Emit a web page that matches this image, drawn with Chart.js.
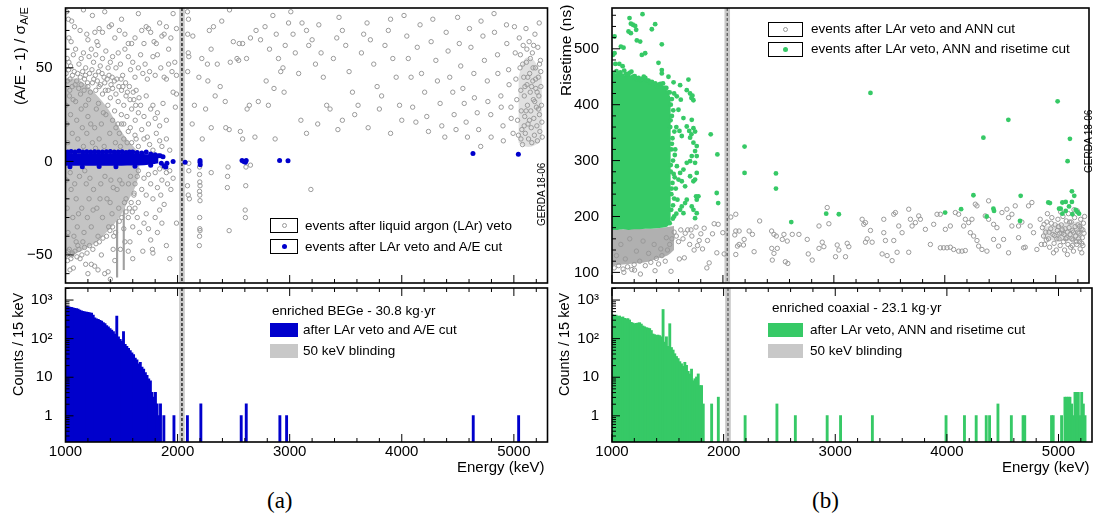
<!DOCTYPE html>
<html>
<head>
<meta charset="utf-8">
<script src="https://cdn.jsdelivr.net/npm/chart.js@4.4.1/dist/chart.umd.min.js"></script>
<style>
  body { margin: 0; background: #fff; font-family: "Liberation Sans", Arial, sans-serif; }
  #wrap { position: relative; width: 1094px; height: 517px; overflow: hidden; }
  canvas { position: absolute; }
  .vt { position: absolute; writing-mode: vertical-rl; transform: rotate(180deg); white-space: nowrap; text-align: end; color: #000; }
  .lg { position: absolute; font-size: 13.5px; line-height: 16px; white-space: nowrap; color: #000; }
  .box { position: absolute; box-sizing: border-box; border: 1px solid #000; background: #fff; }
  .fbox { position: absolute; }
  .mk { position: absolute; box-sizing: border-box; border-radius: 50%; }
</style>
</head>
<body>
<div id="wrap">
  <canvas id="tl" width="555" height="290" style="left:0;top:0"></canvas>
  <canvas id="bl" width="555" height="195" style="left:0;top:285px"></canvas>
  <canvas id="tr" width="549" height="290" style="left:545px;top:0"></canvas>
  <canvas id="br" width="549" height="195" style="left:545px;top:285px"></canvas>

  <div class="vt" style="left:11px;top:7px;height:150px;font-size:15.5px">(A/E - 1) / &sigma;<sub style="font-size:11px">A/E</sub></div>
  <div class="vt" style="left:557px;top:5px;height:120px;font-size:15.5px">Risetime (ns)</div>
  <div class="vt" style="left:10px;top:293px;height:107px;font-size:14.5px">Counts / 15 keV</div>
  <div class="vt" style="left:556px;top:293px;height:107px;font-size:14.5px">Counts / 15 keV</div>
  <div class="vt" style="left:536px;top:163px;height:64px;font-size:10px">GERDA 18-06</div>
  <div class="vt" style="left:1083px;top:110px;height:64px;font-size:10px">GERDA 18-06</div>

  <!-- scatter legends -->
  <div class="box" style="left:270px;top:218px;width:28px;height:15px"></div>
  <div class="mk" style="left:281.5px;top:223px;width:5px;height:5px;border:1px solid #999"></div>
  <div class="lg" style="left:305px;top:218px">events after liquid argon (LAr) veto</div>
  <div class="box" style="left:270px;top:239px;width:28px;height:15px"></div>
  <div class="mk" style="left:281.5px;top:244px;width:5px;height:5px;background:rgb(0,0,204)"></div>
  <div class="lg" style="left:305px;top:239px">events after LAr veto and A/E cut</div>

  <div class="box" style="left:768px;top:22px;width:35px;height:15px"></div>
  <div class="mk" style="left:783px;top:27px;width:5px;height:5px;border:1px solid #999"></div>
  <div class="lg" style="left:811px;top:21px">events after LAr veto and ANN cut</div>
  <div class="box" style="left:768px;top:42px;width:35px;height:15px"></div>
  <div class="mk" style="left:783px;top:47px;width:5px;height:5px;background:rgb(54,201,102)"></div>
  <div class="lg" style="left:811px;top:41px">events after LAr veto, ANN and risetime cut</div>

  <!-- histogram legends -->
  <div class="lg" style="left:272px;top:303px">enriched BEGe - 30.8 kg·yr</div>
  <div class="fbox" style="left:270px;top:323px;width:28px;height:14px;background:rgb(0,0,204)"></div>
  <div class="lg" style="left:303px;top:322px">after LAr veto and A/E cut</div>
  <div class="fbox" style="left:270px;top:344px;width:28px;height:14px;background:#c8c8c8"></div>
  <div class="lg" style="left:303px;top:343px">50 keV blinding</div>

  <div class="lg" style="left:772px;top:300px">enriched coaxial - 23.1 kg·yr</div>
  <div class="fbox" style="left:768px;top:323px;width:35px;height:14px;background:rgb(54,201,102)"></div>
  <div class="lg" style="left:810px;top:322px">after LAr veto, ANN and risetime cut</div>
  <div class="fbox" style="left:768px;top:344px;width:35px;height:14px;background:#c8c8c8"></div>
  <div class="lg" style="left:810px;top:343px">50 keV blinding</div>

  <div class="lg" style="left:457px;top:458px;font-size:15px;line-height:17px">Energy (keV)</div>
  <div class="lg" style="left:1002px;top:458px;font-size:15px;line-height:17px">Energy (keV)</div>
  <div class="lg" style="left:267px;top:488px;font-family:'Liberation Serif',serif;font-size:23px;line-height:26px">(a)</div>
  <div class="lg" style="left:812px;top:488px;font-family:'Liberation Serif',serif;font-size:23px;line-height:26px">(b)</div>
</div>

<script>
// ---- data ----
const energyRange = [1000, 5300];
const blindWindow = [2014, 2064];   // 50 keV blinding around Q_bb
const qbb = 2039;

// (a) BEGe: events after LAr veto, [energy keV, (A/E-1)/sigma]
const tlGrayLow = [
  [1010,80],[1025,76],[1055,75],[1030,66],[1050,64],[1080,72],[1130,70],[1160,81],[1190,68],[1200,65],[1240,78],[1262,69],[1280,64],[1300,71],[1330,69],[1350,80],[1390,72],[1410,73],[1440,66],[1480,70],[1500,76],[1530,68],[1560,63],[1590,63],[1620,66],[1650,79],[1680,70],[1700,63],[1720,72],[1740,71],[1760,69],[1790,64],[1810,63],[1840,74],[1860,67],[1880,68],[1900,72],[1920,60],[1940,66],[1960,79],[1990,71],
  [1015,55],[1030,53],[1045,51],[1070,57],[1090,60],[1120,52],[1140,55],[1160,58],[1180,50],[1210,56],[1230,60],[1250,53],[1270,57],[1290,62],[1310,51],[1330,55],[1360,59],[1380,50],[1400,53],[1420,56],[1450,50],[1470,58],[1490,52],[1510,46],[1530,60],[1560,56],[1580,49],[1600,53],[1620,45],[1650,50],[1670,57],[1690,47],[1710,52],[1730,44],[1750,48],[1780,56],[1800,46],[1820,57],[1850,50],[1880,45],[1900,44],[1920,52],[1950,48],[1975,53],[1990,46],
  [1040,44],[1060,40],[1100,43],[1140,41],[1170,44],[1200,40],[1240,42],[1270,38],[1300,40],[1330,36],[1350,42],[1380,38],[1400,34],[1420,39],[1450,36],[1470,32],[1500,38],[1520,30],[1540,35],[1570,40],[1590,28],[1610,33],[1630,38],[1650,26],[1670,30],[1700,24],[1720,35],[1740,20],[1760,28],[1780,30],[1800,23],[1820,26],[1840,19],[1870,31],[1900,22],[1960,37],[1980,29],[1990,36],
  [1005,47],[1018,43],[1028,49],[1038,38],[1062,46],[1078,48],[1086,41],[1108,47],[1118,39],[1132,45],[1152,48],[1166,38],[1178,46],[1196,42],[1214,47],[1222,37],[1236,49],[1252,44],[1266,46],[1284,43],[1296,48],[1312,41],[1326,47],[1344,45],[1356,38],[1372,44],[1388,46],[1406,41],[1416,45],[1436,43],[1458,44],[1476,40],[1496,44],[1512,40],[1536,42],[1552,37],[1576,33],[1604,37],[1626,30],[1656,34],
  [1450,18],[1480,15],[1500,20],[1520,12],[1560,16],[1590,10],[1620,14],[1650,8],[1680,17],[1700,12],[1730,13],[1750,9],[1780,6],[1810,15],[1840,11],[1860,8],[1900,12],[1930,6],
  [1580,-8],[1620,-12],[1650,-5],[1680,-15],[1700,-9],[1720,-18],[1740,-7],[1760,-12],[1780,-20],[1800,-6],[1820,-14],[1840,-4],[1860,-10],[1880,-3],[1900,-6],[1910,-12],[1930,-5],[1940,-15],[1960,-9],[1850,-18],[1880,-23],
  [1040,-58],[1025,-48],[1055,-50],[1070,-57],[1095,-43],[1110,-45],[1130,-52],[1155,-43],[1180,-55],[1200,-60],[1230,-55],[1260,-56],[1290,-58],[1320,-50],[1350,-60],[1380,-59],[1400,-63],[1425,-47],[1440,-53],[1490,-47],[1530,-43],[1560,-48],[1575,-43],[1600,-52],[1620,-25],[1640,-30],[1650,-22],[1660,-38],[1690,-48],[1700,-33],[1720,-28],[1740,-36],[1760,-42],[1775,-47],[1780,-49],[1800,-30],[1820,-38],[1840,-26],[1860,-33],[1900,-45],[1930,-52],[1990,-33],[1600,-35],[1560,-30],[1520,-36],[1480,-32],
  [1008,-50],[1018,-53],[1034,-47],[1048,-52],[1062,-49],[1084,-48],[1102,-51],[1120,-47],[1146,-50],[1170,-46],[1192,-49],[1214,-45],[1244,-47],[1272,-44],[1302,-43],[1334,-41],[1366,-40],[1396,-37],[1420,-35],[1446,-38],[1502,-30],[1540,-27],[1586,-22],[1612,-17],
  [1005,30],[1012,20],[1020,10],[1008,-10],[1015,-25],[1022,-38],[1035,35],[1045,25],[1060,15],[1050,-15],[1065,-30],[1075,-40],[1090,32],[1100,22],[1110,12],[1095,-20],[1105,-35],[1125,-8],[1140,28],[1150,18],[1160,8],[1145,-25],[1165,-38],[1180,30],[1190,15],[1200,24],[1185,-12],[1195,-30],[1210,-20],[1225,20],[1240,10],[1230,-35],[1250,-15],[1260,18],[1275,28],[1280,-25],[1290,-40],[1300,12],[1320,20],[1315,-12],[1330,-30],[1345,8],[1360,25],[1370,-20],[1385,-35],[1395,15],[1405,-10],[1420,22],[1415,-28],[1430,-40],[1445,10],[1460,-15],[1475,-25],[1490,8],[1505,-12],[1520,20],[1540,-20],[1550,10],[1570,-25],[1590,5],[1610,-18],[1630,12],[1640,-8],
  [1026,4],[1042,-6],[1068,33],[1082,-12],[1116,-28],[1134,36],[1172,-5],[1206,33],[1218,-9],[1246,-26],[1268,7],[1294,31],[1308,-20],[1338,26],[1352,-8],[1378,30],[1398,-22],[1426,-14],[1438,27],[1468,20],[1484,-10],[1498,25],[1526,-22],[1548,24],[1562,-12],[1578,18],[1596,-27],[1622,22]
];
const tlGrayHigh = [
  [2088,80],[2097,76],[2090,68],[2136,67],[2095,58],[2100,56],[2216,55],[2299,60],[2320,72],[2283,70],[2394,75],[2266,52],[2354,52],[2090,48],[2190,45],[2270,43],[2335,35],[2425,32],[2463,81],[2497,64],[2550,63],[2580,63],[2530,55],[2545,54],[2470,53],[2615,55],[2650,66],[2700,70],[2740,65],[2780,72],[2820,60],[2850,78],[2880,68],[2900,55],[2940,50],[2960,62],[2990,74],[2130,20],[2150,30],[2220,12],[2250,28],[2300,18],[2380,40],[2430,18],[2460,17],[2560,16],[2580,12],[2620,28],[2640,30],[2690,13],[2720,32],[2790,43],[2810,30],[2860,39],[2870,12],[2920,48],[2950,37],
  [2100,-1],[2100,-5],[2088,-13],[2095,-18],[2105,-20],[2196,-3],[2196,-7],[2198,-11],[2200,-13],[2196,-16],[2198,-18],[2200,-21],[2197,-30],[2198,-36],[2200,-37],[2196,-40],[2194,-45],[2300,-6],[2446,-8],[2450,-3],[2444,-14],[2460,-37],[2603,-26],[2605,-30],[2610,-3],[2608,-13],[2650,-2],[3189,-15],
  [3010,80],[3030,68],[3050,58],[3080,47],[3110,74],[3150,70],[3170,62],[3200,65],[3230,52],[3260,73],[3280,58],[3300,45],[3330,30],[3360,28],[3390,55],[3420,66],[3440,77],[3470,70],[3500,62],[3530,48],[3560,37],[3580,25],[3610,30],[3640,58],[3660,68],[3690,74],[3720,65],[3750,52],[3780,40],[3800,28],[3820,35],[3850,62],[3880,70],[3900,76],[3920,55],[3950,45],[3980,30],[4000,22],[3100,22],[3150,15],[3250,20],[3430,17],[3470,22],[3700,18],[3900,15],
  [4020,78],[4045,67],[4058,55],[4083,45],[4097,29],[4126,21],[4138,61],[4163,73],[4176,47],[4204,37],[4223,24],[4238,16],[4262,64],[4277,76],[4304,54],[4318,43],[4342,31],[4357,19],[4384,13],[4396,69],[4413,59],[4428,45],[4455,37],[4467,25],[4484,17],[4498,77],[4513,63],[4526,51],[4545,39],[4557,31],[4574,21],[4586,13],[4604,71],[4617,61],[4643,47],[4648,34],[4673,26],[4686,17],[4704,8],[4707,75],[4724,67],[4737,54],[4763,43],[4768,32],[4794,25],[4797,13],[4823,79],[4827,69],[4854,57],[4857,47],[4884,35],[4887,29],[4903,19],[4906,11],[4934,73],[4937,63],[4953,49],[4957,41],[4974,29],[4976,23],[4993,15],
  [5005,72],[5012,58],[5018,44],[5026,33],[5033,22],[5041,14],[5048,66],[5055,50],[5062,38],[5066,27],[5071,17],[5077,9],[5083,62],[5088,45],[5093,35],[5097,24],[5102,15],[5108,71],[5112,53],[5117,41],[5121,30],[5126,20],[5131,12],[5136,64],[5141,47],[5146,37],[5151,27],[5155,18],[5160,10],[5165,58],[5169,43],[5174,33],[5178,23],[5183,14],[5188,68],[5192,50],[5196,39],[5201,29],[5205,19],[5210,11],[5214,61],[5218,45],[5223,35],[5228,25],[5232,16],[5237,54],[5241,40],[5246,30],[5250,21],[5253,13],[5058,57],[5079,52],[5099,40],[5124,45],[5147,55],[5171,50],[5194,44],[5219,28],[5240,48],[5063,12],[5109,27],[5158,40],[5207,37],[5229,52],[5186,32],[5139,22],[5092,19],[5116,60],[5176,62],[5226,74]
];
// dense core of the gray cloud (outline)
const tlCoreE   = [1000, 1100, 1200, 1300, 1380, 1440, 1500, 1560, 1620, 1660];
const tlCoreTop = [44, 44, 40, 34, 28, 22, 16, 11, 7, 4];
const tlCoreBot = [-50, -49, -46, -42, -37, -33, -28, -21, -14, -6];
// vertical streaks at the K-40 and K-42 lines
const tlStreak1E = [1450, 1472], tlStreak1Top = [0, 0], tlStreak1Bot = [-62, -62];
const tlStreak2E = [1508, 1530], tlStreak2Top = [0, 0], tlStreak2Bot = [-58, -58];
const tlClusterE = [5040, 5100, 5160, 5220, 5250];
const tlClusterTop = [45, 55, 55, 50, 45];
const tlClusterBot = [10, 8, 8, 10, 12];
// events after LAr veto and A/E cut
const tlBandE   = [1000, 1200, 1400, 1600, 1700, 1780, 1830];
const tlBandTop = [4.3, 4.3, 4.3, 4.2, 4, 3.5, 2.5];
const tlBandBot = [-2.3, -2.3, -2.3, -2.2, -2, -1.5, -1];
const tlBlue = [
  [1020,5],[1050,5.3],[1085,5],[1120,5.5],[1155,5],[1190,5.2],[1225,5],[1260,5.2],[1295,5],[1330,5],[1365,5.2],[1400,5.3],[1435,5],[1470,5],[1505,5.2],[1540,4.8],[1570,5],[1600,5],[1640,4.8],[1680,4.5],[1720,5],[1760,4],[1800,3.5],[1830,3],
  [1040,-2.8],[1150,-2.8],[1300,-2.7],[1450,-2.8],[1620,-2.6],[1760,-2],
  [1845,3],[1855,-1],[1870,2.5],[1880,-2.5],[1895,-3],[1905,-1],[1960,0],[2067,-0.5],[2200,-0.5],[2202,-1.8],[2200,0.5],[2575,0.5],[2590,0],[2605,-0.5],[2612,0.5],[2910,0.5],[2985,0.3],[4635,4.2],[5040,3.8]
];

// (a) BEGe histogram: 15 keV bins starting at 1000 keV
const begeBinStart = 1000;
const begeCounts = [690,670,650,640,620,600,590,570,540,520,500,490,480,470,460,450,400,340,320,310,295,280,255,240,215,200,180,165,150,130,380,110,95,85,150,70,62,55,48,42,38,31,28,22,24,18,16,13,11,9,8,4,3,4,2,1,2];
const begeLineE = [1875, 1965, 2085, 2205, 2565, 2610, 2910, 2970, 4635, 5040];
const begeLineN = [1, 1, 1, 2, 1, 2, 1, 1, 1, 1];

// (b) coaxial: events after LAr veto and ANN cut, [energy keV, risetime ns]
const trGray = [
  [1107,100],[1179,105],[1203,104],[1256,97],[1388,103],[1532,102],[1607,124],[1652,126],[1682,176],[1712,176],[1757,181],[1801,169],[1786,157],[1771,148],[1831,179],[1861,157],[1816,142],[1906,169],[1855,108],[1876,117],[1921,187],[1957,186],[1945,135],[1999,171],[2011,133],[2071,199],[2116,204],[2116,174],[2107,167],[2131,147],[2116,132],[2146,174],[2146,150],[2236,174],[2266,168],[2191,159],[2185,149],[2281,137],[2331,192],[2439,174],[2460,168],[2481,165],[2440,143],[2460,134],[2445,122],[2490,143],[2535,159],[2550,168],[2580,156],[2625,168],[2563,119],[2585,116],[2685,168],[2760,159],[2769,133],[2805,122],
  [2866,183],[2940,216],[2955,187],[2895,154],[2910,146],[2866,143],[3030,149],[3045,140],[3015,128],[3120,152],[3135,146],[3105,128],[3255,195],[3270,186],[3285,189],[3330,175],[3285,154],[3300,160],[3345,154],[3450,195],[3450,171],[3465,157],[3435,133],[3480,130],[3525,121],[3540,204],[3555,207],[3585,183],[3615,171],[3540,157],[3570,136],[3675,213],[3690,195],[3705,183],[3735,189],[3765,201],[3780,195],[3675,136],[3825,177],[3870,150],[3900,186],[3930,204],[3960,204],[3960,144],[3990,144],[4020,144],[4050,145],[4005,177],[4050,183],[4095,207],[4125,204],[4080,141],[4125,138],[4155,138],[4185,139],[4170,183],[4185,195],[4215,189],[4245,195],[4275,222],[4290,219],[4230,171],[4260,165],[4290,157],[4365,201],[4395,195],[4305,147],[4335,141],[4380,138],[4395,228],[4440,186],[4470,180],[4440,159],[4485,147],[4530,159],[4515,207],[4560,213],[4575,198],[4605,204],[4605,183],[4575,135],[4635,219],[4665,183],[4695,190],[4665,162],[4710,144],[4725,145],[4755,219],[4785,225],[4770,183],[4800,171],[4830,141],
  [4860,195],[4880,180],[4890,165],[4900,150],[4910,172],[4920,190],[4935,160],[4945,145],[4955,178],[4965,198],[4975,168],[4985,152],[4995,185],[5005,140],[5015,175],[5020,195],[5030,160],[5040,148],[5050,185],[5055,170],[5065,200],[5070,155],[5080,140],[5085,178],[5095,192],[5100,162],[5110,150],[5115,205],[5120,180],[5130,168],[5135,145],[5140,190],[5150,175],[5155,158],[5160,138],[5170,198],[5175,182],[5180,165],[5190,150],[5195,210],[5200,185],[5210,170],[5215,155],[5220,142],[5225,195],[5230,178],[5240,162],[5245,148],[5250,188],[5255,170],[4870,150],[4925,205],[4980,135],[5045,208],[5105,132],[5165,212],[5235,135],[5260,200],[5010,160],[5075,168],[5145,160],[5205,160],
  [4895,186],[4940,172],[4990,166],[5025,182],[5060,176],[5090,160],[5125,190],[5160,172],[5185,155],[5215,182],[5245,176],[4915,158],[4960,188],[5035,170],[5105,172],[5150,148],[5200,172],[5235,152],
  [1020,108],[1060,112],[1100,106],[1140,110],[1200,114],[1250,120],[1300,112],[1350,118],[1400,125],[1420,115],[1450,130],[1480,120],[1500,140],[1520,150],[1540,160],[1560,172],[1580,165],[1600,155],[1620,176],[1640,160],[1660,170],[1700,150],[1720,165],[1740,140],
  [1040,130],[1080,150],[1120,124],[1160,160],[1220,138],[1280,156],[1330,134],[1380,150],[1440,142],[1490,162]
];
const trGrayCoreE   = [1000, 1100, 1200, 1300, 1400, 1500, 1560];
const trGrayCoreTop = [177, 177, 178, 178, 179, 181, 183];
const trGrayCoreBot = [112, 114, 116, 118, 124, 130, 140];
const trClusterE   = [4880, 4950, 5050, 5150, 5240];
const trClusterTop = [180, 184, 188, 190, 192];
const trClusterBot = [160, 158, 156, 156, 158];
// events after LAr veto, ANN and risetime cut
const trGreenCoreE   = [1000, 1050, 1100, 1150, 1200, 1250, 1300, 1350, 1400, 1450, 1500, 1530];
const trGreenCoreTop = [453, 456, 452, 454, 449, 445, 446, 440, 436, 436, 424, 412];
const trGreenCoreBot = [176, 176, 177, 176, 177, 177, 178, 178, 179, 180, 182, 190];
const trGreen = [
  [1023,522],[1023,492],[1008,489],[1080,504],[1104,502],[1158,555],[1170,545],[1188,543],[1209,541],[1218,534],[1275,562],[1149,531],[1170,528],[1224,515],[1254,513],[1389,544],[1359,535],[1269,489],[1299,492],[1449,508],[1030,473],[1066,473],[1096,469],[1419,475],[1449,462],[1449,456],[1509,450],[1614,435],[1689,445],[1674,426],[1704,420],[1716,412],[1734,408],[1725,416],
  [1010,456],[1028,452],[1040,460],[1058,455],[1075,458],[1092,452],[1110,461],[1126,455],[1140,454],[1158,457],[1175,459],[1190,450],[1205,451],[1222,446],[1240,448],[1256,444],[1270,446],[1286,450],[1300,448],[1316,443],[1330,443],[1346,440],[1360,441],[1376,436],[1390,438],[1406,433],[1420,436],[1436,437],[1460,438],[1476,430],[1490,430],[1506,422],[1520,422],
  [1530,400],[1540,380],[1525,360],[1545,340],[1535,320],[1550,300],[1530,280],[1545,260],[1535,240],[1550,220],[1560,200],[1580,360],[1570,320],[1585,290],[1575,250],[1560,420],[1555,440],[1565,270],[1590,230],[1580,205],[1540,410],[1552,390],[1528,372],[1562,352],[1540,330],[1566,310],[1530,292],[1556,276],[1538,250],[1560,232],[1534,212],[1548,196],[1520,188],
  [1584,415],[1620,409],[1599,391],[1644,376],[1674,361],[1696,353],[1716,347],[1719,373],[1734,358],[1749,352],[1608,353],[1629,344],[1704,341],[1734,332],[1764,326],[1749,317],[1764,308],[1749,296],[1719,308],[1704,299],[1674,296],[1644,284],[1614,278],[1599,266],[1629,263],[1659,254],[1704,272],[1734,263],[1764,278],[1749,266],[1764,230],[1758,236],[1779,236],[1674,230],[1659,224],[1629,218],[1719,218],[1734,212],[1644,206],[1614,212],[1764,206],[1749,197],
  [1890,347],[1950,311],[1944,242],[1957,224],
  [2195,325],[2195,278],[2478,277],[2478,250],[2616,190],
  [2931,205],[3045,204],[3330,421],[4003,207],[4147,213],[4258,238],[4348,341],[4378,200],[4438,214],[4444,210],[4573,373],[4684,237],[4678,192],[4933,225],[4948,224],[5017,406],[5128,339],[5107,299],[5146,245],[5167,237],[5146,226],[5060,225],[5090,226],[5120,218],[5045,214],[5090,210],[5180,212],[5195,208],[5210,205],[5150,204],[5060,205],[5030,214]
];

// (b) coaxial histogram: 15 keV bins starting at 1000 keV
const coaxBinStart = 1000;
const coaxCounts = [410,390,400,370,380,350,360,330,320,325,300,260,250,240,245,250,255,235,210,200,190,185,180,160,130,125,120,122,118,110,560,80,110,62,240,58,50,40,34,30,25,22,19,24,20,14,12,16,8,9,10,12,6,6];
const coaxLineE = [1810,1885,1945,2190,2475,2635,2930,3045,3330,3995,4150,4255,4345,4375,4450,4570,4675,4690,4930,4945,5020,5050,5065,5080,5095,5110,5125,5140,5155,5170,5185,5200,5215,5230];
const coaxLineN = [2,2,3,1,2,1,1,1,1,1,1,1,1,1,2,1,1,1,1,1,1,3,3,3,3,2,1,4,4,4,1,4,2,1];

// ---- colours ----
const blue = 'rgb(0,0,204)';
const green = 'rgb(54,201,102)';
const gray = '#999999';

Chart.defaults.font.family = '"Liberation Sans", Arial, sans-serif';
Chart.defaults.font.size = 15;
Chart.defaults.color = '#000';

const toPts = a => a.map(p => ({x: p[0], y: p[1]}));
function histPts(start, counts, lineE, lineN) {
  const out = counts.map((n, i) => ({x: start + 15 * i + 7.5, y: n}));
  lineE.forEach((e, i) => out.push({x: Math.floor((e - start) / 15) * 15 + start + 7.5, y: lineN[i]}));
  return out;
}
// filled area between two outlines sharing the same energies
function region(E, top, bot, color, order) {
  const clear = 'rgba(0,0,0,0)';
  return [
    {type: 'line', data: E.map((e, i) => ({x: e, y: top[i]})), borderColor: clear, pointRadius: 0, fill: false, tension: 0.35, order: order},
    {type: 'line', data: E.map((e, i) => ({x: e, y: bot[i]})), borderColor: clear, pointRadius: 0, fill: '-1', tension: 0.35, backgroundColor: color, order: order}
  ];
}

// frame, inward ticks, blinding window
const frame = {
  id: 'frame',
  beforeDatasetsDraw(chart) {
    const {ctx, chartArea: a, scales: {x}} = chart;
    const x1 = x.getPixelForValue(blindWindow[0]), x2 = x.getPixelForValue(blindWindow[1]);
    ctx.save();
    ctx.fillStyle = '#c8c8c8';
    ctx.fillRect(x1, a.top, x2 - x1, a.bottom - a.top);
    ctx.restore();
  },
  afterDatasetsDraw(chart, args, opts) {
    const {ctx, chartArea: a, scales: {x, y}} = chart;
    ctx.save();
    // dashed Q_bb line
    const xq = x.getPixelForValue(qbb);
    ctx.strokeStyle = opts.dashColor || '#000';
    ctx.lineWidth = 1.2;
    ctx.setLineDash([3, 2]);
    ctx.beginPath(); ctx.moveTo(xq, a.top); ctx.lineTo(xq, a.bottom); ctx.stroke();
    ctx.setLineDash([]);
    ctx.strokeStyle = '#000';
    ctx.lineWidth = 1;
    ctx.beginPath();
    for (let e = 1000; e <= 5300; e += 200) {
      const px = x.getPixelForValue(e);
      const len = e % 1000 === 0 ? 8 : 4;
      ctx.moveTo(px, a.bottom); ctx.lineTo(px, a.bottom - len);
      if (opts.topTicks) { ctx.moveTo(px, a.top); ctx.lineTo(px, a.top + len); }
    }
    (opts.yMajor || []).forEach(v => { const py = y.getPixelForValue(v); ctx.moveTo(a.left, py); ctx.lineTo(a.left + 8, py); });
    (opts.yMinor || []).forEach(v => { const py = y.getPixelForValue(v); ctx.moveTo(a.left, py); ctx.lineTo(a.left + 4, py); });
    ctx.stroke();
    ctx.lineWidth = 1.6;
    ctx.strokeRect(a.left, a.top, a.right - a.left, a.bottom - a.top);
    ctx.restore();
  }
};

function fixedTicks(values) {
  return scale => { scale.ticks = values.map(v => ({value: v})); };
}
// fixed axis sizes, no extra room for the end labels
function yFit(width) {
  return s => { s.width = width; s.paddingTop = 0; s.paddingBottom = 0; };
}
const xTop = {type: 'linear', min: energyRange[0], max: energyRange[1], display: false};
const xBottom = {
  type: 'linear', min: energyRange[0], max: energyRange[1], offset: false,
  grid: {display: false}, border: {display: false},
  afterBuildTicks: fixedTicks([1000, 2000, 3000, 4000, 5000]),
  ticks: {padding: -7, maxRotation: 0, callback: v => String(v)},
  afterFit: s => { s.height = 38; s.paddingLeft = 0; s.paddingRight = 0; }
};

function minorRange(from, to, step, skip) {
  const out = [];
  for (let v = from; v <= to + 1e-9; v += step) if (!skip.some(s => Math.abs(s - v) < 1e-9)) out.push(v);
  return out;
}
const logMinor = [];
[0.1, 1, 10, 100, 1000].forEach(d => { for (let k = 2; k <= 9; k++) logMinor.push(d * k); });
const logLabels = {1: '1', 10: '10', 100: '10\u00b2', 1000: '10\u00b3'};

const baseOpts = {
  responsive: false, animation: false, events: [],
  plugins: {legend: {display: false}, tooltip: {enabled: false}}
};

// ---- (a) top: A/E scatter ----
new Chart(document.getElementById('tl'), {
  type: 'scatter',
  data: {datasets: [
    {data: toPts(tlBlue), pointRadius: 2.5, pointBorderWidth: 0, backgroundColor: blue, order: 0},
    ...region(tlBandE, tlBandTop, tlBandBot, blue, 1),
    {data: toPts(tlGrayLow.concat(tlGrayHigh)), pointRadius: 2.2, pointBorderWidth: 1, borderColor: gray, backgroundColor: 'rgba(0,0,0,0)', order: 2},
    ...region(tlCoreE, tlCoreTop, tlCoreBot, '#c4c4c4', 3),
    ...region(tlStreak1E, tlStreak1Top, tlStreak1Bot, '#a0a0a0', 3),
    ...region(tlStreak2E, tlStreak2Top, tlStreak2Bot, '#a0a0a0', 3),
    ...region(tlClusterE, tlClusterTop, tlClusterBot, 'rgba(165,165,165,0.35)', 3)
  ]},
  options: {...baseOpts,
    layout: {padding: {top: 8, bottom: 7, right: 7.5, left: 0}},
    scales: {
      x: xTop,
      y: {type: 'linear', min: -65, max: 82, grid: {display: false}, border: {display: false},
          afterBuildTicks: fixedTicks([-50, 0, 50]),
          ticks: {padding: 5, callback: v => v < 0 ? '\u2212' + Math.abs(v) : String(v)},
          afterFit: yFit(65.5)}
    },
    plugins: {...baseOpts.plugins, frame: {yMajor: [-50, 0, 50], yMinor: minorRange(-60, 80, 10, [-50, 0, 50])}}
  },
  plugins: [frame]
});

// ---- (a) bottom: BEGe spectrum ----
new Chart(document.getElementById('bl'), {
  type: 'bar',
  data: {datasets: [{data: histPts(begeBinStart, begeCounts, begeLineE, begeLineN), backgroundColor: blue, borderWidth: 0, inflateAmount: 0.6, barPercentage: 1, categoryPercentage: 1}]},
  options: {...baseOpts,
    layout: {padding: {top: 3, bottom: 0, right: 7.5, left: 0}},
    scales: {
      x: xBottom,
      y: {type: 'logarithmic', min: 0.21, max: 2050, grid: {display: false}, border: {display: false},
          afterBuildTicks: fixedTicks([1, 10, 100, 1000]),
          ticks: {padding: 5, callback: v => logLabels[v]},
          afterFit: yFit(65.5)}
    },
    plugins: {...baseOpts.plugins, frame: {topTicks: true, yMajor: [1, 10, 100, 1000], yMinor: logMinor.filter(v => v > 0.21 && v < 2050)}}
  },
  plugins: [frame]
});

// ---- (b) top: risetime scatter ----
new Chart(document.getElementById('tr'), {
  type: 'scatter',
  data: {datasets: [
    {data: toPts(trGreen), pointRadius: 2.4, pointBorderWidth: 0, backgroundColor: green, order: 0},
    ...region(trGreenCoreE, trGreenCoreTop, trGreenCoreBot, green, 1),
    {data: toPts(trGray), pointRadius: 2.2, pointBorderWidth: 1, borderColor: gray, backgroundColor: 'rgba(0,0,0,0)', order: 2},
    ...region(trGrayCoreE, trGrayCoreTop, trGrayCoreBot, '#b0b0b0', 3),
    ...region(trClusterE, trClusterTop, trClusterBot, 'rgba(165,165,165,0.35)', 3)
  ]},
  options: {...baseOpts,
    layout: {padding: {top: 8, bottom: 7, right: 2, left: 0}},
    scales: {
      x: xTop,
      y: {type: 'linear', min: 81, max: 573, grid: {display: false}, border: {display: false},
          afterBuildTicks: fixedTicks([100, 200, 300, 400, 500]),
          ticks: {padding: 5},
          afterFit: yFit(67)}
    },
    plugins: {...baseOpts.plugins, frame: {dashColor: '#555', yMajor: [100, 200, 300, 400, 500], yMinor: minorRange(120, 560, 20, [200, 300, 400, 500])}}
  },
  plugins: [frame]
});

// ---- (b) bottom: coaxial spectrum ----
new Chart(document.getElementById('br'), {
  type: 'bar',
  data: {datasets: [{data: histPts(coaxBinStart, coaxCounts, coaxLineE, coaxLineN), backgroundColor: green, borderWidth: 0, inflateAmount: 0.6, barPercentage: 1, categoryPercentage: 1}]},
  options: {...baseOpts,
    layout: {padding: {top: 3, bottom: 0, right: 2, left: 0}},
    scales: {
      x: xBottom,
      y: {type: 'logarithmic', min: 0.21, max: 2050, grid: {display: false}, border: {display: false},
          afterBuildTicks: fixedTicks([1, 10, 100, 1000]),
          ticks: {padding: 5, callback: v => logLabels[v]},
          afterFit: yFit(67)}
    },
    plugins: {...baseOpts.plugins, frame: {dashColor: '#555', topTicks: true, yMajor: [1, 10, 100, 1000], yMinor: logMinor.filter(v => v > 0.21 && v < 2050)}}
  },
  plugins: [frame]
});
</script>
</body>
</html>
